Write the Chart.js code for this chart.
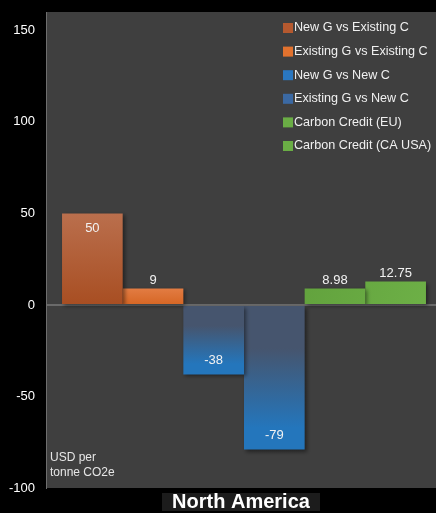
<!DOCTYPE html>
<html>
<head>
<meta charset="utf-8">
<script src="https://cdn.jsdelivr.net/npm/chart.js@4/dist/chart.umd.min.js"></script>
<style>
  html, body { margin: 0; padding: 0; background: #000; overflow: hidden; width: 436px; height: 513px; }
  #wrap { width: 436px; height: 513px; overflow: hidden; position: relative; }
  canvas { display: block; }
</style>
</head>
<body>
<div id="wrap"><canvas id="c" width="442" height="513"></canvas></div>
<script>
const categories = ["North America"];
const seriesNames = ["New G vs Existing C", "Existing G vs Existing C", "New G vs New C", "Existing G vs New C", "Carbon Credit (EU)", "Carbon Credit (CA USA)"];
const seriesValues = [50, 9, -38, -79, 8.98, 12.75];
const valueLabels = ["50", "9", "-38", "-79", "8.98", "12.75"];
const yTicks = [-100, -50, 0, 50, 100, 150];
const yMin = -100, yMax = 160;
const axisTitle = ["USD per", "tonne CO2e"];

const legendColors = ["#b5592f", "#e2722e", "#2a77c0", "#3b69a3", "#6aad45", "#6aad45"];
const gradStops = [
  ["#ba6f4d", "#a84e22"],
  ["#e27c43", "#d66624"],
  ["#46556e", "#2476bc"],
  ["#46556e", "#2476bc"],
  ["#5d9c39", "#6fb248"],
  ["#5d9c39", "#6fb248"]
];

const FONT = '"Liberation Sans", Arial, Helvetica, sans-serif';

function makeBg(i) {
  return function(ctx) {
    const chart = ctx.chart;
    const ys = chart.scales && chart.scales.y;
    if (!chart.chartArea || !ys) return legendColors[i];
    const v = seriesValues[i];
    const p0 = ys.getPixelForValue(0);
    const p1 = ys.getPixelForValue(v);
    const c = chart.ctx;
    let g;
    if (i >= 4) {
      g = c.createLinearGradient(chart.chartArea.left + chart.chartArea.width * 0.5, p1 - 20, chart.chartArea.right, p0 + 20);
      g.addColorStop(0, gradStops[i][0]);
      g.addColorStop(1, gradStops[i][1]);
      return g;
    }
    if (v >= 0) {
      g = c.createLinearGradient(0, p1, 0, p0);
      g.addColorStop(0, gradStops[i][0]);
      g.addColorStop(1, gradStops[i][1]);
    } else {
      g = c.createLinearGradient(0, p0, 0, p1);
      g.addColorStop(0, gradStops[i][0]);
      g.addColorStop(0.3, gradStops[i][0]);
      g.addColorStop(0.85, gradStops[i][1]);
      g.addColorStop(1, gradStops[i][1]);
    }
    return g;
  };
}

const datasets = seriesNames.map((name, i) => ({
  label: name,
  data: [seriesValues[i]],
  backgroundColor: makeBg(i),
  borderWidth: 0,
  categoryPercentage: 0.919,
  barPercentage: 1.0
}));

const plotBg = {
  id: 'plotBg',
  beforeDraw(chart) {
    const {ctx, chartArea: a} = chart;
    ctx.save();
    ctx.fillStyle = '#000';
    ctx.fillRect(0, 0, chart.width, chart.height);
    ctx.fillStyle = '#3f3f3f';
    ctx.fillRect(a.left, a.top, a.right - a.left, a.bottom - a.top);
    ctx.restore();
  }
};

const shadow = {
  id: 'shadow',
  beforeDatasetsDraw(chart) {
    const ctx = chart.ctx;
    ctx.save();
    ctx.shadowColor = 'rgba(0,0,0,0.45)';
    ctx.shadowBlur = 4;
    ctx.shadowOffsetX = 2;
    ctx.shadowOffsetY = 2;
  },
  afterDatasetsDraw(chart) {
    chart.ctx.restore();
  }
};

const overlay = {
  id: 'overlay',
  afterDraw(chart) {
    const {ctx, chartArea: a} = chart;
    ctx.save();
    // value labels
    ctx.font = '13px ' + FONT;
    ctx.fillStyle = '#f2f2f2';
    ctx.textAlign = 'center';
    ctx.textBaseline = 'middle';
    chart.data.datasets.forEach((ds, i) => {
      const meta = chart.getDatasetMeta(i);
      const el = meta.data[0];
      const h = Math.abs(el.base - el.y);
      const v = seriesValues[i];
      let y;
      if (h > 40) {
        y = v >= 0 ? el.y + 15 : el.y - 14;
      } else {
        y = v >= 0 ? el.y - 8 : el.y + 8;
      }
      ctx.fillText(valueLabels[i], el.x, y);
    });
    // legend
    ctx.font = '12.6px ' + FONT;
    ctx.textAlign = 'left';
    ctx.textBaseline = 'middle';
    const lx = a.left + 237, ly0 = a.top + 16, step = 23.6;
    seriesNames.forEach((n, i) => {
      const y = ly0 + i * step;
      ctx.fillStyle = legendColors[i];
      ctx.fillRect(lx, y - 5, 10, 10);
      ctx.fillStyle = '#f0f0f0';
      ctx.fillText(n, lx + 11, y);
    });
    // axis title
    ctx.font = '12px ' + FONT;
    ctx.fillStyle = '#e6e6e6';
    ctx.fillText(axisTitle[0], a.left + 4, a.bottom - 30);
    ctx.fillText(axisTitle[1], a.left + 4, a.bottom - 15);
    // category label
    const cx = 241;
    ctx.font = '600 20px ' + FONT;
    const bw = 158;
    ctx.fillStyle = '#1c1c1c';
    ctx.fillRect(cx - bw / 2, a.bottom + 5, bw, 18);
    ctx.fillStyle = '#ffffff';
    ctx.textAlign = 'center';
    ctx.fillText(categories[0], cx, a.bottom + 14);
    ctx.restore();
  }
};

new Chart(document.getElementById('c'), {
  type: 'bar',
  data: { labels: categories, datasets },
  options: {
    responsive: false,
    animation: false,
    events: [],
    layout: { padding: { top: 12, bottom: 25, left: 0, right: 0 } },
    plugins: { legend: { display: false }, tooltip: { enabled: false } },
    scales: {
      x: { display: false },
      y: {
        min: yMin, max: yMax,
        afterFit(s) { s.width = 46; s.paddingTop = 0; s.paddingBottom = 0; },
        afterBuildTicks(s) { s.ticks = yTicks.map(v => ({ value: v })); },
        border: { display: true, color: '#6e6e6e', width: 1 },
        grid: {
          drawTicks: false,
          lineWidth: 2,
          color: (c) => (c.tick && c.tick.value === 0) ? '#6a6a6a' : 'rgba(0,0,0,0)'
        },
        ticks: {
          padding: 11,
          color: '#ffffff',
          font: { size: 13, family: FONT },
          callback: (v) => String(v)
        }
      }
    }
  },
  plugins: [plotBg, shadow, overlay]
});
</script>
</body>
</html>
